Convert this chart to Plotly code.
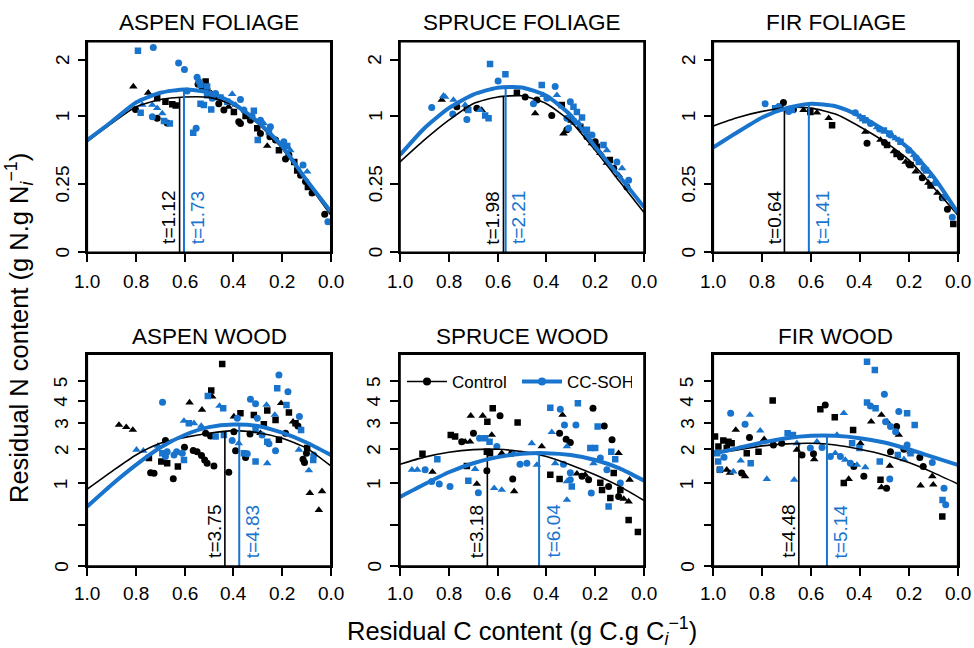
import numpy as np
import plotly.graph_objects as go

BLACK = "#000000"
BLUE = "#1874CD"
FONT = "Liberation Sans, Arial, Helvetica, sans-serif"

# ---------------- data ----------------
CURVE_X = [1.0, 0.9, 0.8, 0.7, 0.6, 0.5, 0.4, 0.3, 0.2, 0.1, 0.0]
X_TICKS = [1.0, 0.8, 0.6, 0.4, 0.2, 0.0]
X_TICK_TEXT = ["1.0", "0.8", "0.6", "0.4", "0.2", "0.0"]
Y_TICKS_FOL = [0, 0.25, 1, 2]
Y_TICK_TEXT_FOL = ["0", "0.25", "1", "2"]
Y_TICKS_WOOD = [0, 0.25, 1, 2, 3, 4, 5]
Y_TICK_TEXT_WOOD = ["0", "", "1", "2", "3", "4", "5"]
TITLES = ["ASPEN FOLIAGE", "SPRUCE FOLIAGE", "FIR FOLIAGE", "ASPEN WOOD", "SPRUCE WOOD", "FIR WOOD"]
GROUPS = ["Control", "CC-SOH"]

# ASPEN FOLIAGE
af_ctrl_x = [0.811, 0.75, 0.713, 0.679, 0.651, 0.637, 0.802, 0.713, 0.672, 0.514, 0.528, 0.508, 0.473, 0.46, 0.439, 0.398,
             0.378, 0.371, 0.33, 0.302, 0.289, 0.261, 0.227, 0.213, 0.186, 0.172, 0.138, 0.124, 0.104, 0.094, 0.077, 0.025,
             0.545, 0.49, 0.42, 0.35, 0.25, 0.15]
af_ctrl_y = [1.48, 1.37, 1.28, 1.22, 1.18, 1.16, 1.10, 0.97, 0.90, 1.57, 1.48, 1.42, 1.30, 1.19, 1.09, 1.06,
             0.92, 0.895, 0.94, 0.83, 0.76, 0.61, 0.68, 0.56, 0.47, 0.51, 0.36, 0.32, 0.27, 0.23, 0.19, 0.078,
             1.52, 1.36, 1.14, 1.0, 0.72, 0.44]
af_ctrl_s = "ttssssooossosooso" + "oosotosoosoosooo" + "ttsost"
af_cc_x = [0.792, 0.729, 0.625, 0.601, 0.549, 0.542, 0.535, 0.508, 0.565, 0.553, 0.781, 0.774, 0.733, 0.713, 0.692, 0.733,
           0.685, 0.661, 0.535, 0.521, 0.491, 0.508, 0.487, 0.473, 0.453, 0.405, 0.425, 0.371, 0.391, 0.357, 0.316, 0.323,
           0.289, 0.275, 0.248, 0.30, 0.254, 0.193, 0.179, 0.166, 0.114, 0.097, 0.012, 0.59]
af_cc_y = [2.19, 2.26, 1.93, 1.80, 1.65, 1.57, 1.51, 1.48, 0.77, 0.83, 1.05, 1.17, 1.17, 1.12, 1.04, 0.99,
           0.93, 0.895, 1.19, 1.17, 1.10, 1.33, 1.28, 1.36, 1.29, 1.35, 1.22, 1.26, 1.17, 1.09, 1.08, 1.0,
           0.94, 0.895, 0.85, 0.68, 0.78, 0.66, 0.61, 0.56, 0.41, 0.35, 0.05, 1.40]
af_cc_s = "soooooss" + "sosttttos" + "sssssoosts" + "otosoo" + "tossostotooot"
af_ctrl_curve = [0.66, 0.895, 1.141, 1.259, 1.30, 1.293, 1.168, 0.895, 0.582, 0.269, 0.075]
af_cc_curve = [0.679, 0.918, 1.21, 1.371, 1.43, 1.377, 1.194, 0.918, 0.608, 0.282, 0.089]
af_peak = [0.621, 0.603]
af_t = ["t=1.12", "t=1.73"]

# SPRUCE FOLIAGE
sf_ctrl_x = [0.829, 0.767, 0.726, 0.685, 0.665, 0.521, 0.487, 0.439, 0.446, 0.378, 0.337, 0.33, 0.316, 0.261, 0.234,
             0.213, 0.193, 0.179, 0.152, 0.124, 0.104, 0.07, 0.3, 0.25, 0.2, 0.14]
sf_ctrl_y = [1.25, 1.14, 1.12, 1.12, 1.09, 1.37, 1.30, 1.25, 1.04, 1.01, 1.17, 0.76, 0.81, 0.85, 0.72,
             0.64, 0.60, 0.53, 0.43, 0.38, 0.32, 0.23, 0.95, 0.80, 0.66, 0.46]
sf_ctrl_s = "tosotsootosto" + "sotsttotostos"
sf_cc_x = [0.631, 0.568, 0.598, 0.87, 0.822, 0.815, 0.781, 0.784, 0.726, 0.733, 0.72, 0.672, 0.651, 0.637, 0.419,
           0.364, 0.357, 0.412, 0.398, 0.453, 0.302, 0.289, 0.275, 0.254, 0.316, 0.309, 0.289, 0.268, 0.234, 0.213,
           0.166, 0.152, 0.111, 0.09, 0.063]
sf_cc_y = [1.91, 1.71, 1.58, 1.13, 1.32, 1.30, 1.25, 1.03, 0.95, 1.17, 1.09, 1.09, 1.01, 0.97, 1.51,
           1.48, 1.33, 1.33, 1.28, 1.19, 1.22, 1.14, 1.06, 0.98, 0.97, 0.83, 0.92, 0.90, 0.81, 0.74,
           0.62, 0.56, 0.44, 0.38, 0.28]
sf_cc_s = "ssoottto" + "otstsss" + "ottoo" + "osssoo" + "stso" + "stoto"
sf_ctrl_curve = [0.44, 0.68, 0.94, 1.19, 1.30, 1.32, 1.19, 0.92, 0.56, 0.27, 0.085]
sf_cc_curve = [0.51, 0.83, 1.12, 1.34, 1.46, 1.465, 1.32, 1.01, 0.60, 0.31, 0.11]
sf_peak = [0.576, 0.567]
sf_t = ["t=1.98", "t=2.21"]

# FIR FOLIAGE
ff_ctrl_x = [0.713, 0.726, 0.672, 0.631, 0.603, 0.576, 0.528, 0.514, 0.371, 0.378, 0.316, 0.289, 0.261, 0.234, 0.213,
             0.193, 0.172, 0.145, 0.111, 0.083, 0.063, 0.042, 0.018, 0.3, 0.25, 0.2, 0.12]
ff_ctrl_y = [1.21, 1.14, 1.10, 1.09, 1.06, 1.05, 0.97, 0.87, 0.64, 0.78, 0.68, 0.62, 0.55, 0.49, 0.44,
             0.41, 0.35, 0.30, 0.24, 0.19, 0.16, 0.10, 0.043, 0.65, 0.52, 0.42, 0.26]
ff_ctrl_s = "osotsttsot" + "tstot" + "stosto" + "os" + "osot"
ff_cc_x = [0.788, 0.747, 0.733, 0.713, 0.692, 0.679, 0.419, 0.398, 0.378, 0.357, 0.33, 0.302, 0.275, 0.254, 0.234,
           0.2, 0.179, 0.159, 0.138, 0.111, 0.09, 0.056, 0.022, 0.39, 0.32, 0.28, 0.24, 0.17, 0.13]
ff_cc_y = [1.19, 1.12, 1.14, 1.10, 1.07, 1.09, 1.05, 0.99, 0.94, 0.895, 0.84, 0.80, 0.74, 0.70, 0.66,
           0.56, 0.51, 0.44, 0.38, 0.31, 0.26, 0.16, 0.066, 0.97, 0.82, 0.76, 0.68, 0.48, 0.36]
ff_cc_s = "osotos" + "otsotsots" + "otsoto" + "oo" + "sostos"
ff_ctrl_curve = [0.86, 0.98, 1.07, 1.13, 1.12, 1.03, 0.85, 0.66, 0.46, 0.23, 0.075]
ff_cc_curve = [0.593, 0.78, 0.98, 1.12, 1.19, 1.15, 1.0, 0.80, 0.58, 0.31, 0.085]
ff_peak = [0.709, 0.609]
ff_t = ["t=0.64", "t=1.41"]

# ASPEN WOOD
aw_ctrl_x = [0.446, 0.491, 0.487, 0.58, 0.529, 0.87, 0.84, 0.813, 0.679, 0.747, 0.696, 0.672, 0.628, 0.74, 0.726,
             0.647, 0.601, 0.565, 0.549, 0.531, 0.518, 0.508, 0.48, 0.514, 0.494, 0.419, 0.391, 0.398, 0.371, 0.398,
             0.35, 0.316, 0.275, 0.261, 0.227, 0.204, 0.172, 0.155, 0.145, 0.135, 0.213, 0.186, 0.332, 0.097, 0.1,
             0.114, 0.108, 0.086, 0.036, 0.049, 0.289]
aw_ctrl_y = [5.99, 4.52, 4.21, 3.92, 3.58, 2.92, 2.83, 2.72, 2.31, 1.71, 1.60, 1.55, 1.45, 1.28, 1.26,
             1.12, 2.07, 1.96, 1.92, 1.79, 1.65, 1.55, 1.47, 2.59, 2.48, 1.29, 1.95, 3.28, 3.43, 2.65,
             1.73, 3.35, 2.95, 3.55, 3.13, 3.89, 3.46, 3.06, 2.99, 2.88, 2.34, 2.59, 2.56, 2.04, 1.87,
             1.67, 1.57, 0.78, 0.82, 0.46, 2.59]
aw_ctrl_s = "sstttttto" + "sssso" + "oooooooooooo" + "otsoos" + "ssstst" + "sosoosoo" + "otttt"
aw_cc_x = [0.691, 0.505, 0.457, 0.442, 0.603, 0.583, 0.562, 0.532, 0.798, 0.77, 0.71, 0.692, 0.672, 0.679, 0.644,
           0.603, 0.61, 0.633, 0.473, 0.439, 0.405, 0.384, 0.378, 0.357, 0.343, 0.33, 0.309, 0.264, 0.302, 0.309,
           0.282, 0.261, 0.254, 0.23, 0.309, 0.261, 0.213, 0.22, 0.176, 0.182, 0.129, 0.122, 0.227, 0.131, 0.07,
           0.072, 0.09]
aw_cc_y = [3.94, 4.24, 3.76, 3.65, 3.09, 2.99, 2.99, 2.88, 1.98, 1.95, 2.12, 1.87, 1.92, 1.76, 1.81,
           1.65, 1.87, 1.92, 2.46, 2.52, 2.31, 3.20, 2.21, 1.87, 1.85, 4.08, 3.86, 3.81, 3.20, 2.72,
           2.52, 2.27, 2.19, 3.35, 1.60, 1.55, 5.36, 4.64, 4.46, 3.81, 3.28, 2.72, 1.95, 1.98, 1.81,
           1.65, 1.34]
aw_cc_s = "ostststt" + "tttsooos" + "ooss" + "ootso" + "ootos" + "osots" + "tosos" + "os" + "otos" + "t"
aw_ctrl_curve = [0.87, 1.31, 1.81, 2.21, 2.43, 2.59, 2.69, 2.61, 2.40, 2.04, 1.47]
aw_cc_curve = [0.52, 0.97, 1.50, 2.06, 2.52, 2.83, 2.94, 2.88, 2.61, 2.24, 1.81]
aw_peak = [0.435, 0.376]
aw_t = ["t=3.75", "t=4.83"]

# SPRUCE WOOD
sw_ctrl_x = [0.62, 0.59, 0.71, 0.661, 0.642, 0.518, 0.209, 0.334, 0.163, 0.792, 0.774, 0.747, 0.733, 0.713, 0.699,
             0.624, 0.644, 0.631, 0.583, 0.542, 0.908, 0.867, 0.726, 0.685, 0.644, 0.538, 0.532, 0.419, 0.346, 0.319,
             0.302, 0.346, 0.384, 0.275, 0.254, 0.241, 0.227, 0.179, 0.172, 0.145, 0.131, 0.104, 0.124, 0.097, 0.138,
             0.104, 0.059, 0.063, 0.063, 0.025, 0.083, 0.289]
sw_ctrl_y = [3.65, 3.31, 3.31, 3.31, 3.06, 3.02, 3.65, 3.35, 2.88, 2.52, 2.46, 2.27, 2.27, 2.27, 2.59,
             2.52, 1.92, 1.87, 1.87, 1.87, 1.85, 1.30, 1.47, 0.99, 1.33, 1.11, 0.82, 2.10, 2.59, 2.36,
             2.24, 1.11, 1.22, 1.25, 1.18, 1.22, 1.09, 1.02, 0.85, 0.93, 2.34, 1.87, 1.27, 0.85, 0.68,
             0.71, 1.09, 0.61, 0.31, 0.17, 0.66, 1.36]
sw_ctrl_s = "sottssoto" + "ssottot" + "sstostst" + "ootto" + "oosstotosso" + "otsssottsst"
sw_cc_x = [0.384, 0.343, 0.271, 0.326, 0.279, 0.19, 0.378, 0.316, 0.22, 0.2, 0.134, 0.118, 0.207, 0.179, 0.651,
           0.674, 0.633, 0.603, 0.46, 0.951, 0.929, 0.897, 0.847, 0.87, 0.839, 0.795, 0.72, 0.692, 0.679, 0.614,
           0.583, 0.535, 0.508, 0.48, 0.439, 0.364, 0.33, 0.316, 0.302, 0.316, 0.296, 0.216, 0.152, 0.145, 0.097,
           0.302]
sw_cc_y = [3.68, 3.61, 3.89, 2.92, 2.92, 2.86, 2.63, 2.10, 2.04, 2.04, 1.92, 1.67, 1.55, 1.71, 2.40,
           2.40, 2.27, 2.10, 2.21, 1.36, 1.36, 1.36, 1.67, 1.05, 0.99, 0.93, 1.07, 1.38, 0.79, 0.89,
           0.85, 1.87, 1.52, 1.55, 1.50, 1.55, 1.52, 1.05, 1.09, 0.64, 0.93, 0.78, 1.36, 0.52, 1.01,
           1.28]
sw_cc_s = "sosoos" + "ttsssstos" + "osot" + "ttosooo" + "stot" + "ttootto" + "totsoosoo"
sw_ctrl_curve = [1.52, 1.74, 1.90, 1.99, 2.0, 1.92, 1.76, 1.50, 1.22, 0.93, 0.63]
sw_cc_curve = [0.70, 0.98, 1.29, 1.55, 1.74, 1.85, 1.87, 1.81, 1.65, 1.40, 1.07]
sw_peak = [0.642, 0.43]
sw_t = ["t=3.18", "t=6.04"]

# FIR WOOD
fw_ctrl_x = [0.757, 0.562, 0.542, 0.503, 0.428, 0.354, 0.312, 0.289, 0.25, 0.241, 0.908, 0.852, 0.792, 0.993, 0.959,
             0.938, 0.979, 0.945, 0.925, 0.863, 0.815, 0.754, 0.72, 0.658, 0.637, 0.587, 0.59, 0.398, 0.275, 0.22,
             0.193, 0.155, 0.141, 0.104, 0.1, 0.152, 0.278, 0.316, 0.291, 0.312, 0.384, 0.446, 0.466, 0.063, 0.973,
             0.945, 0.932, 0.884, 0.87, 0.425]
fw_ctrl_y = [4.02, 3.61, 3.81, 3.25, 2.72, 3.06, 3.35, 3.06, 2.86, 2.52, 2.72, 2.42, 2.36, 2.46, 2.31,
             2.27, 2.10, 2.04, 2.21, 1.87, 1.92, 2.15, 2.21, 1.98, 1.81, 1.67, 1.85, 2.21, 1.92, 2.0,
             1.92, 1.73, 1.45, 1.18, 0.97, 0.95, 1.47, 1.09, 0.89, 0.91, 1.18, 1.11, 1.01, 0.36, 1.36,
             1.36, 1.27, 1.27, 1.18, 1.45]
fw_ctrl_s = "ssosstttot" + "tot" + "ssssssss" + "oototot" + "ootootttt" + "sotot" + "ssstto" + "too"
fw_cc_x = [0.371, 0.339, 0.3, 0.371, 0.357, 0.336, 0.241, 0.207, 0.176, 0.295, 0.275, 0.254, 0.929, 0.85, 0.87,
           0.808, 0.696, 0.674, 0.466, 0.658, 0.603, 0.576, 0.555, 0.494, 0.432, 0.402, 0.521, 0.501, 0.48, 0.46,
           0.439, 0.412, 0.378, 0.319, 0.193, 0.207, 0.245, 0.22, 0.104, 0.278, 0.888, 0.847, 0.98, 0.956, 0.973,
           0.918, 0.781, 0.669, 0.056, 0.062, 0.049, 0.984]
fw_cc_y = [6.13, 5.64, 4.33, 3.92, 3.76, 3.65, 3.50, 3.43, 2.92, 3.06, 2.86, 2.65, 3.43, 3.35, 2.95,
           2.69, 2.59, 2.52, 3.43, 2.21, 2.04, 2.27, 2.06, 2.52, 2.21, 2.04, 1.76, 1.87, 1.76, 1.65,
           1.55, 1.50, 1.43, 1.60, 1.87, 2.15, 1.81, 1.67, 1.57, 1.11, 1.63, 1.55, 1.60, 1.74, 1.36,
           1.31, 1.11, 1.09, 0.89, 0.64, 0.55, 1.87]
fw_cc_s = "ssosos" + "osso" + "ooototsst" + "tototsso" + "tototts" + "sostoot" + "ssoo" + "ttto" + "soso"
fw_ctrl_curve = [1.85, 1.98, 2.12, 2.19, 2.21, 2.15, 2.00, 1.81, 1.57, 1.28, 0.99]
fw_cc_curve = [1.85, 2.04, 2.24, 2.40, 2.49, 2.49, 2.40, 2.24, 2.00, 1.74, 1.50]
fw_peak = [0.65, 0.535]
fw_t = ["t=4.48", "t=5.14"]

# ---------------- layout geometry ----------------
W, H = 974, 648
X_DOMAINS = [(87.3, 330.8), (400.0, 644.0), (713.3, 957.7)]
Y_ROWS = [(41.7, 252.3), (354.3, 566.0)]
Y_TOP = [np.sqrt(2.39), np.sqrt(6.58)]
XLAB_OFF = [29.0, 27.5]
YLAB_OFF = [25.0, 26.5]

SYMS = {"o": "circle", "s": "square", "t": "triangle-up"}
SIZES = {"o": 7, "s": 6.5, "t": 7.5}

panels = [
    (af_ctrl_x, af_ctrl_y, af_ctrl_s, af_cc_x, af_cc_y, af_cc_s, af_ctrl_curve, af_cc_curve, af_peak, af_t),
    (sf_ctrl_x, sf_ctrl_y, sf_ctrl_s, sf_cc_x, sf_cc_y, sf_cc_s, sf_ctrl_curve, sf_cc_curve, sf_peak, sf_t),
    (ff_ctrl_x, ff_ctrl_y, ff_ctrl_s, ff_cc_x, ff_cc_y, ff_cc_s, ff_ctrl_curve, ff_cc_curve, ff_peak, ff_t),
    (aw_ctrl_x, aw_ctrl_y, aw_ctrl_s, aw_cc_x, aw_cc_y, aw_cc_s, aw_ctrl_curve, aw_cc_curve, aw_peak, aw_t),
    (sw_ctrl_x, sw_ctrl_y, sw_ctrl_s, sw_cc_x, sw_cc_y, sw_cc_s, sw_ctrl_curve, sw_cc_curve, sw_peak, sw_t),
    (fw_ctrl_x, fw_ctrl_y, fw_ctrl_s, fw_cc_x, fw_cc_y, fw_cc_s, fw_ctrl_curve, fw_cc_curve, fw_peak, fw_t),
]

fig = go.Figure()
annotations = []
shapes = []
layout = {}
tick_font = dict(size=19, color=BLACK, family=FONT)

for i, (cx, cy, cs, bx, by, bs, ccurve, bcurve, peak, tlab) in enumerate(panels):
    n = "" if i == 0 else str(i + 1)
    xa, ya = "x" + n, "y" + n
    row, col = i // 3, i % 3
    groups = [(cx, cy, cs, BLACK, ccurve, 1.6), (bx, by, bs, BLUE, bcurve, 4.0)]
    for gx, gy, gs, color, _, _ in groups:
        for code in "ost":
            px = [x for x, s in zip(gx, gs) if s == code]
            py = [float(np.sqrt(y)) for y, s in zip(gy, gs) if s == code]
            fig.add_trace(go.Scatter(x=px, y=py, mode="markers", xaxis=xa, yaxis=ya, showlegend=False,
                                     marker=dict(symbol=SYMS[code], size=SIZES[code], color=color, line=dict(width=0)),
                                     hoverinfo="skip"))
    for k, (gx, gy, gs, color, curve, lw) in enumerate(groups):
        sq = np.sqrt(np.array(curve))
        fig.add_trace(go.Scatter(x=CURVE_X, y=sq.tolist(), mode="lines", xaxis=xa, yaxis=ya, showlegend=False,
                                 line=dict(color=color, width=lw, shape="spline", smoothing=0.6), hoverinfo="skip"))
        top = float(np.interp(peak[k], CURVE_X[::-1], sq[::-1]))
        fig.add_trace(go.Scatter(x=[peak[k], peak[k]], y=[0, top], mode="lines", xaxis=xa, yaxis=ya,
                                 showlegend=False, line=dict(color=color, width=1.6 if k == 0 else 2.0),
                                 hoverinfo="skip"))
        annotations.append(dict(x=peak[k], y=0, xref=xa, yref=ya, text=tlab[k], showarrow=False, textangle=-90,
                                xanchor="right" if k == 0 else "left", yanchor="bottom",
                                xshift=2 if k == 0 else 1, yshift=6,
                                font=dict(size=19, color=color, family=FONT)))
    x0, x1 = X_DOMAINS[col]
    yt, yb = Y_ROWS[row]
    px0, px1 = x0 / W, x1 / W
    py0, py1 = 1 - yb / H, 1 - yt / H
    shapes.append(dict(type="rect", xref="paper", yref="paper", x0=px0, x1=px1, y0=py0, y1=py1,
                       line=dict(color=BLACK, width=1.6), fillcolor="rgba(0,0,0,0)", layer="above"))
    ytv = Y_TICKS_FOL if row == 0 else Y_TICKS_WOOD
    ytt = Y_TICK_TEXT_FOL if row == 0 else Y_TICK_TEXT_WOOD
    layout["xaxis" + n] = dict(domain=[px0, px1], range=[1, 0], anchor=ya, tickmode="array",
                               tickvals=X_TICKS, ticks="outside", ticklen=8, tickwidth=1.5, tickcolor=BLACK,
                               showticklabels=False, showline=True, mirror=True, linecolor=BLACK, linewidth=1.5,
                               showgrid=False, zeroline=False)
    layout["yaxis" + n] = dict(domain=[py0, py1], range=[0, float(Y_TOP[row])], anchor=xa, tickmode="array",
                               tickvals=[float(v) for v in np.sqrt(ytv)], ticks="outside", ticklen=8,
                               tickwidth=1.5, tickcolor=BLACK, showticklabels=False, showline=True, mirror=True,
                               linecolor=BLACK, linewidth=1.5, showgrid=False, zeroline=False)
    for tv, tt in zip(X_TICKS, X_TICK_TEXT):
        annotations.append(dict(x=tv, y=py0, xref=xa, yref="paper", text=tt, showarrow=False,
                                xanchor="center", yanchor="middle", yshift=-XLAB_OFF[row], font=tick_font))
    for tv, tt in zip(ytv, ytt):
        if tt:
            annotations.append(dict(x=px0, y=float(np.sqrt(tv)), xref="paper", yref=ya, text=tt, showarrow=False,
                                    textangle=-90, xanchor="center", yanchor="middle", xshift=-YLAB_OFF[row],
                                    font=tick_font))
    annotations.append(dict(x=(x0 + x1) / 2 / W, y=1 - (22.5 if row == 0 else 336.7) / H, xref="paper",
                            yref="paper", text=TITLES[i], showarrow=False, xanchor="center", yanchor="middle",
                            font=dict(size=22.5, color=BLACK, family=FONT)))

for name, color, lw in [(GROUPS[0], BLACK, 1.6), (GROUPS[1], BLUE, 4.0)]:
    fig.add_trace(go.Scatter(x=[None], y=[None], mode="lines+markers", name=name, xaxis="x5", yaxis="y5",
                             line=dict(color=color, width=lw), marker=dict(symbol="circle", size=8, color=color),
                             showlegend=True))

annotations.append(dict(x=522 / W, y=1 - 631 / H, xref="paper", yref="paper",
                        text="Residual C content (g C.g C<sub><i>i</i></sub><sup>\u22121</sup>)", showarrow=False,
                        xanchor="center", yanchor="middle", font=dict(size=25.5, color=BLACK, family=FONT)))
annotations.append(dict(x=19 / W, y=1 - 328 / H, xref="paper", yref="paper", textangle=-90,
                        text="Residual N content (g N.g N<sub><i>i</i></sub><sup>\u22121</sup>)", showarrow=False,
                        xanchor="center", yanchor="middle", font=dict(size=25.5, color=BLACK, family=FONT)))

fig.update_layout(
    width=W, height=H, margin=dict(l=0, r=0, t=0, b=0), paper_bgcolor="white", plot_bgcolor="white",
    font=dict(family=FONT, color=BLACK), annotations=annotations, shapes=shapes,
    legend=dict(orientation="h", x=402 / W, y=1 - 364 / H, xanchor="left", yanchor="top",
                bgcolor="rgba(0,0,0,0)", font=dict(size=17, color=BLACK, family=FONT),
                itemwidth=40, entrywidth=60, entrywidthmode="pixels", tracegroupgap=0),
    **layout,
)

fig.write_html("out.html", config={"displayModeBar": False},
               post_script="document.body.style.margin='0px';document.body.style.overflow='hidden';")
